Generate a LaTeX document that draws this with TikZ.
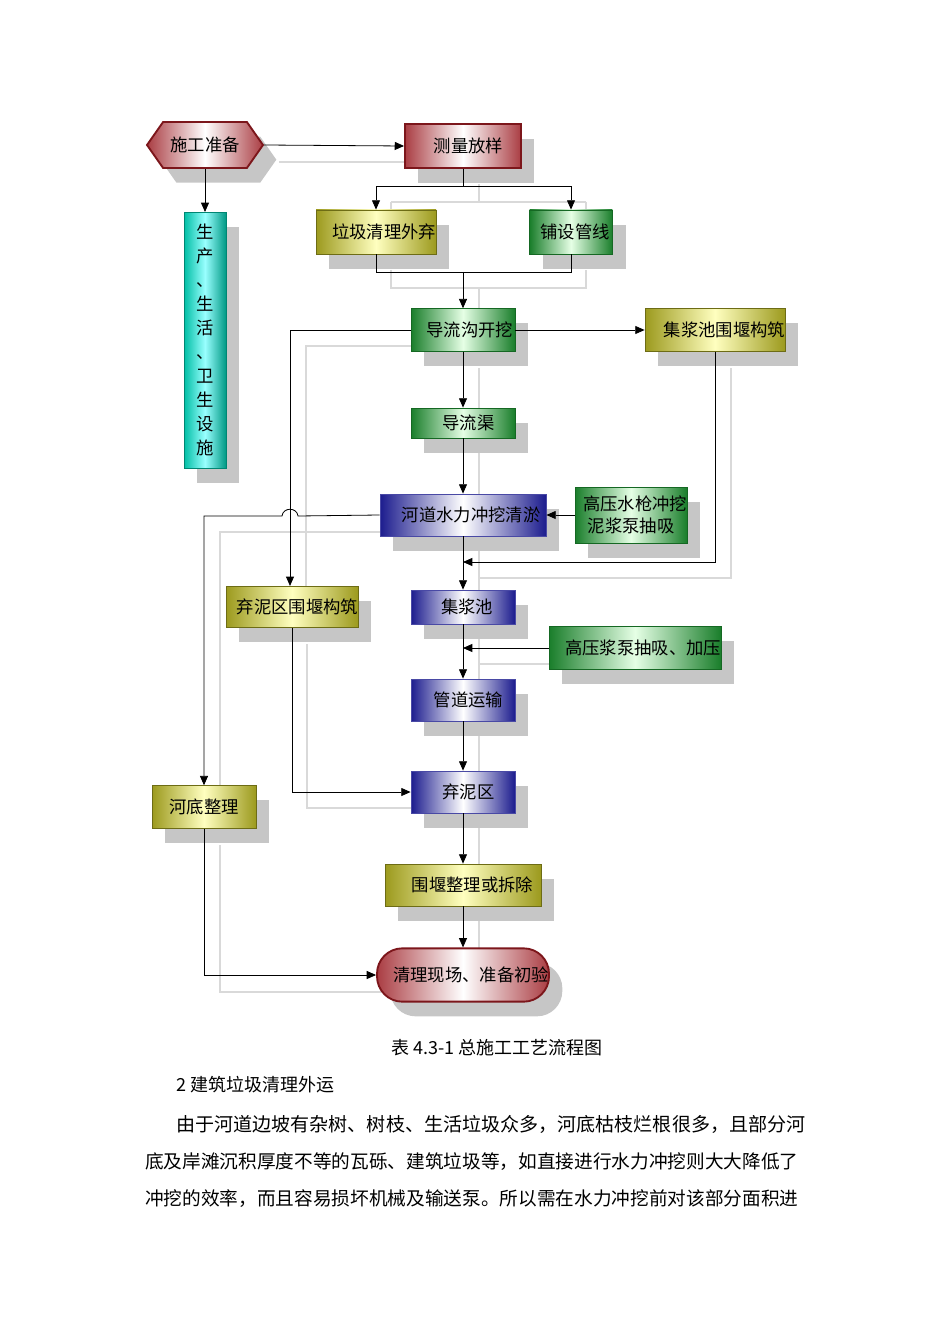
\documentclass[tikz,border=0pt]{standalone}
\usepackage{fontspec}
\setmainfont{Noto Sans CJK SC}
\usetikzlibrary{shapes.symbols,shadows,arrows.meta}
\definecolor{rd}{HTML}{9B1B22}
\definecolor{ol}{HTML}{9C9A1E}
\definecolor{gr}{HTML}{1E9432}
\definecolor{bl}{HTML}{1C1C8E}
\definecolor{cy}{HTML}{00BFA5}
\begin{document}
\begin{tikzpicture}[x=0.75pt,y=-0.75pt,
 sh/.style={drop shadow={shadow xshift=10pt,shadow yshift=-11pt,fill=gray!45,opacity=1}},
 bx/.style={sh,draw,line width=0.6pt,inner sep=0pt,font=\fontsize{13pt}{15pt}\selectfont},
 olv/.style={bx,draw=ol!70!black,left color=ol,right color=ol,middle color=yellow!25},
 grn/.style={bx,draw=gr!70!black,left color=gr!85!black,right color=gr!85!black,middle color=green!10},
 blu/.style={bx,draw=bl!80!white,left color=bl,right color=bl,middle color=white},
 red/.style={bx,draw=rd!80!black,line width=1.4pt,left color=rd!85!white,right color=rd!85!white,middle color=white},
 ar/.style={-{Triangle[length=7pt,width=6pt]},line width=0.6pt},
 ln/.style={line width=0.6pt},
 gl/.style={gray!30,line width=1pt}]
\useasboundingbox (0,0) rectangle (950,1344);
% shadow lines (behind everything)
\begin{scope}[xshift=12pt,yshift=-12pt]
\draw[gl] (263,146) -- (405,146);
\draw[gl] (463,168) -- (463,186) (375,186) -- (570,186) (375,186)--(375,210) (570,186)--(570,210);
\draw[gl] (375,254)--(375,272)--(570,272)--(570,254) (463,272)--(463,309);
\draw[gl] (411,330)--(290,330)--(290,587);
\draw[gl] (380,516)--(204,516)--(204,786);
\draw[gl] (715,352)--(715,562)--(463,562);
\draw[gl] (563,648)--(463,648);
\draw[gl] (291,628)--(291,792)--(411,792);
\draw[gl] (204,829)--(204,976)--(385,976);
\draw[gl] (463,352)--(463,950);
\end{scope}
% nodes
\node[red,shape=signal,signal to=west and east,signal pointer angle=110,minimum width=87pt,minimum height=34.5pt] (prep) at (205,145) {施工准备};
\node[red,minimum width=87pt,minimum height=33pt] (meas) at (463,146) {\hspace{8pt}测量放样};
\node[olv,minimum width=80pt,minimum height=33pt] (lj) at (376,232) {\hspace{12pt}垃圾清理外弃};
\node[grn,minimum width=62pt,minimum height=33pt] (pu) at (571,232) {\hspace{6pt}铺设管线};
\node[bx,draw=cy!70!black,left color=cy,right color=cy!80!black,middle color=cyan!40,minimum width=31.5pt,minimum height=192pt,align=center,font=\fontsize{13pt}{18pt}\selectfont,anchor=north] (life) at (205,212) {生\\产\\、\\生\\活\\、\\卫\\生\\设\\施};
\node[grn,minimum width=78pt,minimum height=32pt] (dlg) at (463,330) {\hspace{10pt}导流沟开挖};
\node[olv,minimum width=101pt,minimum height=32pt] (jjw) at (715,330) {\hspace{14pt}集浆池围堰构筑};
\node[grn,minimum width=78pt,minimum height=22.5pt] (dlq) at (463,423) {\hspace{8pt}导流渠};
\node[blu,minimum width=124.5pt,minimum height=31.5pt] (hd) at (463,515) {\hspace{12pt}河道水力冲挖清淤};
\node[grn,minimum width=78pt,minimum height=42pt,align=center,font=\fontsize{13pt}{16pt}\selectfont] (gy) at (631,515) {\hspace{6pt}高压水枪冲挖\\泥浆泵抽吸};
\node[olv,minimum width=88.5pt,minimum height=31pt] (qnw) at (292,607) {\hspace{8pt}弃泥区围堰构筑};
\node[blu,minimum width=78pt,minimum height=25.5pt] (jjc) at (463,607) {\hspace{6pt}集浆池};
\node[grn,minimum width=109pt,minimum height=32pt] (gyb) at (635,648) {\hspace{12pt}高压浆泵抽吸、加压};
\node[blu,minimum width=78pt,minimum height=31.5pt] (gd) at (463,700) {\hspace{8pt}管道运输};
\node[olv,minimum width=78pt,minimum height=32pt] (hdz) at (204,807) {河底整理};
\node[blu,minimum width=78pt,minimum height=31.5pt] (qn) at (463,792) {\hspace{8pt}弃泥区};
\node[olv,minimum width=117pt,minimum height=31.5pt] (wy) at (463,885) {\hspace{14pt}围堰整理或拆除};
\node[red,rounded corners=19pt,minimum width=117pt,minimum height=40pt] (ql) at (463,975) {\hspace{12pt}清理现场、准备初验};
% connectors
\draw[ar] (prep.east) -- (meas.west);
\draw[ar] (prep.south) -- (life.north);
\coordinate (s1) at (463,186);
\draw[ln] (meas.south) -- (s1);
\draw[ar] (s1) -| (lj.north);
\draw[ar] (s1) -| (pu.north);
\coordinate (s2) at (463,272);
\draw[ln] (lj.south) |- (s2);
\draw[ln] (pu.south) |- (s2);
\draw[ar] (s2) -- (dlg.north);
\draw[ar] (dlg.east) -- (jjw.west);
\draw[ar] (dlg.south) -- (dlq.north);
\draw[ar] (dlq.south) -- (hd.north);
\coordinate (c1) at (290,330);
\draw[ar] (dlg.west) -- (c1) -- (qnw.north -| c1);
\draw[ar] (gy.west) -- (hd.east);
\coordinate (c2) at (204,516);
\draw[ar] (hd.west) -- (298,516) .. controls (297,507) and (283,507) .. (282,516) -- (c2) -- (hdz.north);
\coordinate (c3) at (463,562);
\draw[ar] (jjw.south) |- (c3);
\draw[ar] (hd.south) -- (jjc.north);
\coordinate (c4) at (463,648);
\draw[ar] (gyb.west) -- (c4);
\draw[ar] (jjc.south) -- (gd.north);
\draw[ar] (gd.south) -- (qn.north);
\draw[ar] (qnw.south) |- (qn.west);
\draw[ar] (qn.south) -- (wy.north);
\draw[ar] (wy.south) -- (ql.north);
\draw[ar] (hdz.south) |- (ql.west);
% text
\node[font=\fontsize{13.5pt}{16pt}\selectfont] (cap) at (497,1048) {表 4.3-1 总施工工艺流程图};
\node[anchor=west,inner sep=0pt,font=\fontsize{13.5pt}{16pt}\selectfont] (h2) at (176,1085) {2 建筑垃圾清理外运};
\node[anchor=west,inner sep=0pt,font=\fontsize{14.3pt}{16pt}\selectfont] (p1) at (176,1124) {由于河道边坡有杂树、树枝、生活垃圾众多，河底枯枝烂根很多，且部分河};
\node[anchor=west,inner sep=0pt,font=\fontsize{14pt}{16pt}\selectfont] (p2) at (145,1162) {底及岸滩沉积厚度不等的瓦砾、建筑垃圾等，如直接进行水力冲挖则大大降低了};
\node[anchor=west,inner sep=0pt,font=\fontsize{14pt}{16pt}\selectfont] (p3) at (145,1199) {冲挖的效率，而且容易损坏机械及输送泵。所以需在水力冲挖前对该部分面积进};
\end{tikzpicture}
\end{document}
